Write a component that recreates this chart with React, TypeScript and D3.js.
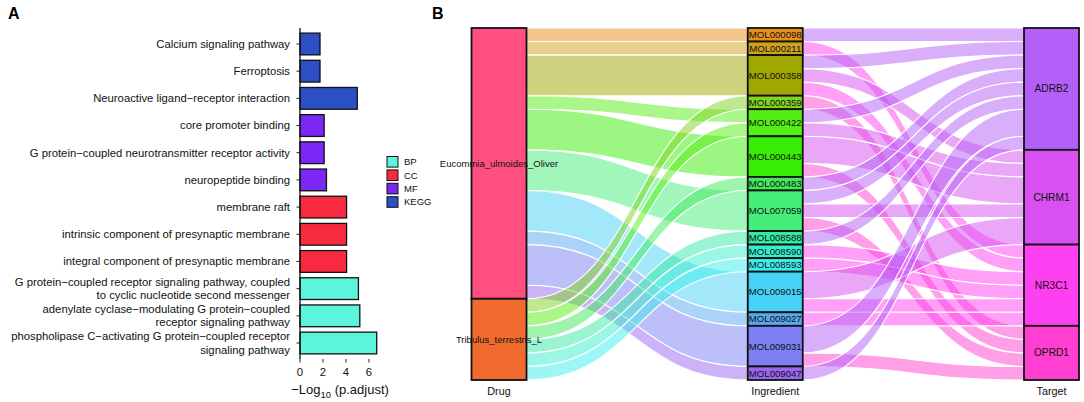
import React from "react";
import * as d3 from "d3";

// ---- panel A: enrichment bars ----
const terms = [
  "Calcium signaling pathway",
  "Ferroptosis",
  "Neuroactive ligand−receptor interaction",
  "core promoter binding",
  "G protein−coupled neurotransmitter receptor activity",
  "neuropeptide binding",
  "membrane raft",
  "intrinsic component of presynaptic membrane",
  "integral component of presynaptic membrane",
  "G protein−coupled receptor signaling pathway, coupled\nto cyclic nucleotide second messenger",
  "adenylate cyclase−modulating G protein−coupled\nreceptor signaling pathway",
  "phospholipase C−activating G protein−coupled receptor\nsignaling pathway",
];
const termValues = [1.74, 1.74, 4.98, 2.1, 2.1, 2.3, 4.05, 4.05, 4.05, 5.08, 5.2, 6.67];
const termGroups = ["KEGG", "KEGG", "KEGG", "MF", "MF", "MF", "CC", "CC", "CC", "BP", "BP", "BP"];
const groupNames = ["BP", "CC", "MF", "KEGG"];
const groupColors = ["#5CF4DA", "#F72A40", "#7B27F5", "#2C4FC4"];
const xTicks = [0, 2, 4, 6];

// ---- panel B: alluvial ----
const axes = ["Drug", "Ingredient", "Target"];
const drugs = ["Eucommia_ulmoides_Oliver", "Tribulus_terrestris_L"];
const drugColors = ["#FF4F80", "#F26B2E"];
const ingredients = [
  "MOL000098", "MOL000211", "MOL000358", "MOL000359", "MOL000422",
  "MOL000443", "MOL000483", "MOL007059", "MOL008588", "MOL008590",
  "MOL008593", "MOL009015", "MOL009027", "MOL009031", "MOL009047",
];
const ingredientColors = [
  "#E8901A", "#CFA21E", "#A0A800", "#7FD422", "#55EE14",
  "#38EE06", "#42E85C", "#44EE78", "#36E8A4", "#36EECB",
  "#3CEDEE", "#46D2F6", "#58A8F0", "#7C80F2", "#9966EE",
];
const targets = ["ADRB2", "CHRM1", "NR3C1", "OPRD1"];
const targetColors = ["#B460F8", "#D850F0", "#FF40F2", "#FF3FD0"];

const drugIngredientLinks: [string, string, number][] = [
  ["Eucommia_ulmoides_Oliver", "MOL000098", 1],
  ["Eucommia_ulmoides_Oliver", "MOL000211", 1],
  ["Eucommia_ulmoides_Oliver", "MOL000358", 3],
  ["Eucommia_ulmoides_Oliver", "MOL000422", 1],
  ["Eucommia_ulmoides_Oliver", "MOL000443", 3],
  ["Eucommia_ulmoides_Oliver", "MOL007059", 3],
  ["Eucommia_ulmoides_Oliver", "MOL009015", 3],
  ["Eucommia_ulmoides_Oliver", "MOL009027", 1],
  ["Eucommia_ulmoides_Oliver", "MOL009031", 3],
  ["Eucommia_ulmoides_Oliver", "MOL009047", 1],
  ["Tribulus_terrestris_L", "MOL000359", 1],
  ["Tribulus_terrestris_L", "MOL000422", 1],
  ["Tribulus_terrestris_L", "MOL000483", 1],
  ["Tribulus_terrestris_L", "MOL008588", 1],
  ["Tribulus_terrestris_L", "MOL008590", 1],
  ["Tribulus_terrestris_L", "MOL008593", 1],
];

const ingredientTargetLinks: [string, string, number][] = [
  ["MOL000098", "ADRB2", 1],
  ["MOL000211", "NR3C1", 1],
  ["MOL000358", "ADRB2", 1],
  ["MOL000358", "CHRM1", 1],
  ["MOL000358", "NR3C1", 1],
  ["MOL000359", "OPRD1", 1],
  ["MOL000422", "ADRB2", 1],
  ["MOL000422", "CHRM1", 1],
  ["MOL000443", "CHRM1", 2],
  ["MOL000443", "OPRD1", 1],
  ["MOL000483", "ADRB2", 1],
  ["MOL007059", "ADRB2", 1],
  ["MOL007059", "CHRM1", 1],
  ["MOL007059", "OPRD1", 1],
  ["MOL008588", "ADRB2", 1],
  ["MOL008590", "NR3C1", 1],
  ["MOL008593", "NR3C1", 1],
  ["MOL009015", "CHRM1", 2],
  ["MOL009015", "NR3C1", 1],
  ["MOL009027", "NR3C1", 1],
  ["MOL009031", "ADRB2", 2],
  ["MOL009031", "OPRD1", 1],
  ["MOL009047", "ADRB2", 1],
];

const FONT = "'Liberation Sans', Arial, sans-serif";

type Flow = { x0: number; x1: number; y0: number; y1: number; h: number; color: string };

function stackNodes(names: string[], sizes: Map<string, number>, y: d3.ScaleLinear<number, number>) {
  const start = new Map<string, number>();
  let acc = 0;
  names.forEach((n) => {
    start.set(n, acc);
    acc += sizes.get(n) || 0;
  });
  return names.map((n) => ({ name: n, y0: y(start.get(n)!), y1: y(start.get(n)! + (sizes.get(n) || 0)), start: start.get(n)! }));
}

function buildFlows(
  links: [string, string, number][],
  srcNames: string[],
  dstNames: string[],
  srcStart: Map<string, number>,
  dstStart: Map<string, number>,
  x0: number,
  x1: number,
  y: d3.ScaleLinear<number, number>,
  colorOf: (dst: string) => string
): Flow[] {
  const srcOff = new Map<string, number>();
  const dstOff = new Map<string, number>();
  const outOrder = [...links].sort(
    (a, b) => srcNames.indexOf(a[0]) - srcNames.indexOf(b[0]) || dstNames.indexOf(a[1]) - dstNames.indexOf(b[1])
  );
  const inOrder = [...links].sort(
    (a, b) => dstNames.indexOf(a[1]) - dstNames.indexOf(b[1]) || srcNames.indexOf(a[0]) - srcNames.indexOf(b[0])
  );
  const srcPos = new Map<any, number>();
  const dstPos = new Map<any, number>();
  outOrder.forEach((l) => {
    const o = srcOff.get(l[0]) || 0;
    srcPos.set(l, srcStart.get(l[0])! + o);
    srcOff.set(l[0], o + l[2]);
  });
  inOrder.forEach((l) => {
    const o = dstOff.get(l[1]) || 0;
    dstPos.set(l, dstStart.get(l[1])! + o);
    dstOff.set(l[1], o + l[2]);
  });
  return links.map((l) => ({
    x0,
    x1,
    y0: y(srcPos.get(l)!),
    y1: y(dstPos.get(l)!),
    h: y(l[2]) - y(0),
    color: colorOf(l[1]),
  }));
}

function ribbon(f: Flow) {
  const p = d3.path();
  const xm = (f.x0 + f.x1) / 2;
  p.moveTo(f.x0, f.y0);
  p.bezierCurveTo(xm, f.y0, xm, f.y1, f.x1, f.y1);
  p.lineTo(f.x1, f.y1 + f.h);
  p.bezierCurveTo(xm, f.y1 + f.h, xm, f.y0 + f.h, f.x0, f.y0 + f.h);
  p.closePath();
  return p.toString();
}

const BarPanel: React.FC = () => {
  const y = d3.scaleBand<string>().domain(terms).range([30.4, 356.6]).paddingInner(0.2).paddingOuter(0.1);
  const x = d3.scaleLinear().domain([0, 7]).range([300, 380.5]);
  const color = d3.scaleOrdinal<string, string>().domain(groupNames).range(groupColors);
  return (
    <g fontFamily={FONT}>
      <text x={8} y={19} fontSize={16} fontWeight="bold">A</text>
      {terms.map((t, i) => (
        <rect
          key={t}
          x={x(0)}
          y={y(t)!}
          width={x(termValues[i]) - x(0)}
          height={y.bandwidth()}
          fill={color(termGroups[i])}
          stroke="#111"
          strokeWidth={1.3}
        />
      ))}
      <line x1={x(0)} x2={x(0)} y1={28} y2={359} stroke="#111" strokeWidth={1.3} />
      {terms.map((t) => {
        const cy = y(t)! + y.bandwidth() / 2;
        const lines = t.split("\n");
        const lh = 13.3;
        return (
          <g key={"l" + t}>
            <line x1={x(0) - 3.5} x2={x(0)} y1={cy} y2={cy} stroke="#222" strokeWidth={1} />
            {lines.map((ln, k) => (
              <text
                key={k}
                x={290}
                y={cy + (k - (lines.length - 1) / 2) * lh}
                dy="0.35em"
                textAnchor="end"
                fontSize={11.3}
                fill="#111"
              >
                {ln}
              </text>
            ))}
          </g>
        );
      })}
      {xTicks.map((v) => (
        <g key={v}>
          <line x1={x(v)} x2={x(v)} y1={359} y2={362.5} stroke="#222" strokeWidth={1} />
          <text x={x(v)} y={372} dy="0.35em" textAnchor="middle" fontSize={11.3} fill="#111">
            {v}
          </text>
        </g>
      ))}
      <text x={340} y={394} textAnchor="middle" fontSize={13} fill="#111">
        −Log
        <tspan fontSize={9.5} dy={4}>10</tspan>
        <tspan dy={-4}> (p.adjust)</tspan>
      </text>
      {groupNames.map((g, i) => (
        <g key={g}>
          <rect x={387} y={156.5 + i * 13.4} width={11} height={10.6} fill={groupColors[i]} stroke="#111" strokeWidth={1} />
          <text x={404} y={161.8 + i * 13.4} dy="0.35em" fontSize={9.5} fill="#111">
            {g}
          </text>
        </g>
      ))}
    </g>
  );
};

const AlluvialPanel: React.FC = () => {
  const drugSize = d3.rollup(drugIngredientLinks, (v) => d3.sum(v, (d) => d[2]), (d) => d[0]);
  const ingSize = d3.rollup(drugIngredientLinks, (v) => d3.sum(v, (d) => d[2]), (d) => d[1]);
  const tgtSize = d3.rollup(ingredientTargetLinks, (v) => d3.sum(v, (d) => d[2]), (d) => d[1]);
  const total = d3.sum(drugIngredientLinks, (d) => d[2]);

  const y = d3.scaleLinear().domain([0, total]).range([28, 380]);
  const ax = d3.scalePoint<string>().domain(axes).range([499, 1051.5]);
  const bw = 55;

  const drugNodes = stackNodes(drugs, drugSize, y);
  const ingNodes = stackNodes(ingredients, ingSize, y);
  const tgtNodes = stackNodes(targets, tgtSize, y);
  const toMap = (nodes: { name: string; start: number }[]) => new Map(nodes.map((n) => [n.name, n.start]));

  const ingColor = d3.scaleOrdinal<string, string>().domain(ingredients).range(ingredientColors);
  const tgtColor = d3.scaleOrdinal<string, string>().domain(targets).range(targetColors);

  const leftFlows = buildFlows(
    drugIngredientLinks, drugs, ingredients, toMap(drugNodes), toMap(ingNodes),
    ax("Drug")! + bw / 2, ax("Ingredient")! - bw / 2, y, (d) => ingColor(d)
  );
  const rightFlows = buildFlows(
    ingredientTargetLinks, ingredients, targets, toMap(ingNodes), toMap(tgtNodes),
    ax("Ingredient")! + bw / 2, ax("Target")! - bw / 2, y, (d) => tgtColor(d)
  );

  const columns = [
    { axis: "Drug", nodes: drugNodes, colors: drugColors, size: 9.5 },
    { axis: "Ingredient", nodes: ingNodes, colors: ingredientColors, size: 9.6 },
    { axis: "Target", nodes: tgtNodes, colors: targetColors, size: 10.2 },
  ];

  return (
    <g fontFamily={FONT}>
      <text x={432} y={19} fontSize={16} fontWeight="bold">B</text>
      {[...leftFlows, ...rightFlows].map((f, i) => (
        <path key={i} d={ribbon(f)} fill={f.color} fillOpacity={0.5} stroke="#fff" strokeWidth={1.1} />
      ))}
      {columns.map((c) => (
        <g key={c.axis}>
          {c.nodes.map((n, i) => (
            <rect
              key={n.name}
              x={ax(c.axis)! - bw / 2}
              y={n.y0}
              width={bw}
              height={n.y1 - n.y0}
              fill={c.colors[i]}
              stroke="#111"
              strokeWidth={1.8}
            />
          ))}
          {c.nodes.map((n) => (
            <text
              key={"t" + n.name}
              x={ax(c.axis)!}
              y={(n.y0 + n.y1) / 2}
              dy="0.35em"
              textAnchor="middle"
              fontSize={c.size}
              fill="#111"
            >
              {n.name}
            </text>
          ))}
          <text x={ax(c.axis)!} y={391} dy="0.35em" textAnchor="middle" fontSize={10.8} fill="#111">
            {c.axis}
          </text>
        </g>
      ))}
    </g>
  );
};

export default function App() {
  return (
    <svg
      width={1084}
      height={402}
      viewBox="0 0 1084 402"
      style={{ position: "absolute", left: 0, top: 0, display: "block", background: "#fff" }}
    >
      <rect width={1084} height={402} fill="#fff" />
      <BarPanel />
      <AlluvialPanel />
    </svg>
  );
}
